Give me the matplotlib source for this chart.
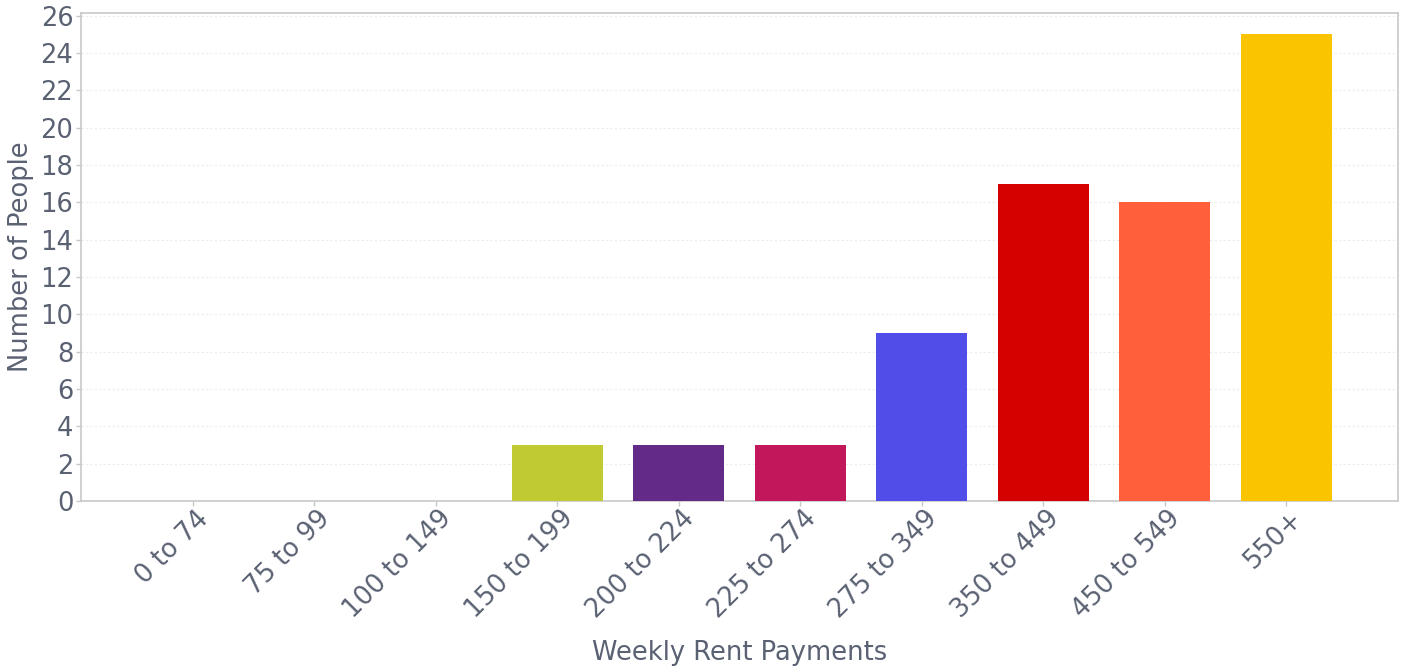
import matplotlib
matplotlib.use('Agg')
import matplotlib.pyplot as plt
from matplotlib.transforms import ScaledTranslation

categories = ['0 to 74', '75 to 99', '100 to 149', '150 to 199', '200 to 224',
              '225 to 274', '275 to 349', '350 to 449', '450 to 549', '550+']
people = [0, 0, 0, 3, 3, 3, 9, 17, 16, 25]
colors = ['#3f51b5', '#3f51b5', '#3f51b5', '#c0ca33', '#632a88',
          '#c2185b', '#514de9', '#d50000', '#ff5f3b', '#fbc400']

text_color = '#5a6172'
spine_color = '#c8c8c8'

fig = plt.figure(figsize=(14.06, 6.66), dpi=100)
ax = fig.add_axes([0.0576, 0.2477, 0.9367, 0.7328])

x = list(range(len(categories)))
ax.bar(x, people, width=0.75, color=colors, zorder=3)

ax.set_xlim(-0.92, len(categories) - 1 + 0.92)
ax.set_ylim(0, 26.15)
ax.set_yticks(range(0, 27, 2))
ax.set_xticks(x)

ax.grid(axis='y', color='#ececec', linestyle=(0, (2, 2)), linewidth=0.8, zorder=0)
for s in ax.spines.values():
    s.set_color(spine_color)
    s.set_linewidth(1.2)

ax.tick_params(axis='both', colors=spine_color, labelcolor=text_color,
               labelsize=18.5, length=3.5, width=1)
ax.tick_params(axis='x', pad=6.5)
ax.tick_params(axis='y', pad=2)

# labels set after tick_params, otherwise the pad change resets the transform
ax.set_xticklabels(categories, rotation=45, ha='right', va='center',
                   rotation_mode='anchor')
shift = ScaledTranslation(0.12, 0, fig.dpi_scale_trans)
for lbl in ax.get_xticklabels():
    lbl.set_transform(lbl.get_transform() + shift)

ax.set_xlabel('Weekly Rent Payments', fontsize=18.5, color=text_color)
ax.xaxis.set_label_coords(0.5, -0.285)
ax.set_ylabel('Number of People', fontsize=18.5, color=text_color)
ax.yaxis.set_label_coords(-0.036, 0.5)

fig.savefig('out.png', dpi=100)
